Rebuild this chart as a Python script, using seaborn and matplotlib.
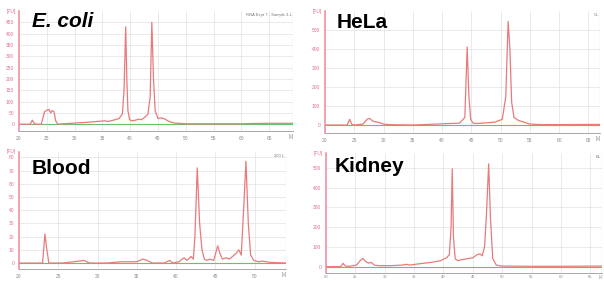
import numpy as np
import matplotlib
matplotlib.use("Agg")
import matplotlib.pyplot as plt
import seaborn as sns

# electropherogram traces: time [s] and fluorescence [FU]
ecoli_t = [20, 22.0, 22.4, 22.7, 23.0, 24.0, 24.6, 25.0, 25.4, 25.7, 26.0, 26.3, 26.6, 27.0,
           28, 30, 32, 34, 35.5, 36, 37, 38, 38.6, 38.9, 39.2, 39.4, 39.6, 39.9, 40.3, 41,
           41.5, 42, 42.6, 43.2, 43.6, 43.9, 44.2, 44.5, 45, 45.6, 46.3, 47, 48, 50, 55,
           60, 62, 65, 69.3]
ecoli_v = [0, 0, 18, 5, 0, 0, 55, 62, 65, 50, 60, 55, 15, 0,
           2, 5, 8, 12, 15, 12, 18, 25, 45, 150, 430, 200, 60, 20, 15, 18,
           22, 20, 30, 45, 120, 450, 200, 60, 25, 28, 22, 12, 5, 2, 2,
           2, 3, 4, 4]

hela_t = [20, 23.8, 24.2, 24.6, 25.0, 26.5, 27.2, 27.6, 28.2, 29, 30, 31, 35, 39, 43,
          43.9, 44.3, 44.6, 44.9, 45.3, 45.8, 47, 49, 50.3, 50.9, 51.3, 51.6, 51.9,
          52.3, 53, 54, 55, 57, 60, 65, 67]
hela_v = [0, 0, 30, 3, 0, 5, 30, 35, 20, 15, 5, 2, 0, 5, 10,
          40, 410, 150, 30, 10, 8, 10, 15, 30, 150, 545, 400, 120,
          40, 25, 15, 5, 2, 2, 3, 3]

blood_t = [20, 23.0, 23.3, 23.5, 23.8, 24.2, 25.5, 27, 28.3, 28.6, 29, 31.2, 33, 35,
           35.8, 36.3, 37, 38.5, 39.2, 39.6, 40.4, 41.0, 41.4, 41.9, 42.2, 42.4, 42.7,
           43.0, 43.3, 43.6, 43.9, 44.3, 44.8, 45.3, 45.6, 45.9, 46.4, 46.8, 47.2, 47.6,
           48.0, 48.3, 48.6, 48.9, 49.2, 49.5, 49.9, 50.5, 51, 52, 54]
blood_v = [0, 0, 22, 12, 0, 0, 0, 1, 2, 1, 0, 0, 1, 1,
           3, 2, 0, 0, 2, 0, 1, 4, 2, 5, 3, 20, 72,
           30, 10, 3, 2, 3, 2, 13, 7, 3, 4, 3, 5, 7,
           10, 6, 40, 77, 30, 6, 2, 1, 1.5, 0.5, 0]

kidney_t = [20, 22.5, 22.9, 23.3, 24, 25.2, 25.8, 26.25, 26.8, 27.3, 27.7, 28.2, 29, 31,
            33, 33.7, 34.3, 36, 38, 39.5, 40.5, 41.0, 41.3, 41.5, 41.7, 42.0, 42.5, 43,
            44, 45, 45.7, 46.2, 46.6, 47.0, 47.3, 47.7, 48.0, 48.4, 49, 50, 55, 60, 67]
kidney_v = [0, 0, 17, 3, 2, 8, 30, 42, 25, 18, 22, 8, 5, 5,
            8, 12, 8, 15, 22, 30, 45, 60, 200, 495, 150, 40, 30, 35,
            40, 45, 60, 65, 55, 100, 250, 520, 250, 40, 8, 3, 2, 2, 3]

names = ["E. coli", "HeLa", "Blood", "Kidney"]
corner = ["RNA Expt 7 - Sample 3-L", "CL", "200 L", "EL"]
xticks = [list(range(20, 70, 5)), list(range(20, 70, 5)), list(range(20, 55, 5)),
          list(range(20, 70, 5))]
yticks = [list(range(0, 500, 50)), list(range(0, 600, 100)), list(range(0, 90, 10)),
          list(range(0, 600, 100))]

sns.set_style("white")
plt.rcParams["font.family"] = ["Liberation Sans", "DejaVu Sans"]

W, H = 604, 281
fig = plt.figure(figsize=(W / 100, H / 100), dpi=100)

# pixel boxes (left, right, top, bottom) and axis limits for each panel
boxes = [(19, 293, 11, 131), (325, 600, 11, 133), (19, 286, 152, 269), (326, 602, 153, 273)]
xlims = [(20, 69.3), (20, 67), (20, 54), (20, 67)]
ylims = [(-30, 500), (-42, 600), (-4.5, 84), (-32, 575)]
title_pos = [(0.047, 0.87), (0.044, 0.86), (0.049, 0.81), (0.033, 0.84)]
xpad = [1.5, 1.5, 1.5, 0.5]
xlen = [2, 2, 2, 1]
xsize = [3.5, 3.5, 3.5, 3]

traces = [(ecoli_t, ecoli_v), (hela_t, hela_v), (blood_t, blood_v), (kidney_t, kidney_v)]

red = "#e97a7a"
pink = "#f08a9a"
green = "#6cbf6c"

for i, (t, v) in enumerate(traces):
    l, r, top, b = boxes[i]
    ax = fig.add_axes([l / W, 1 - b / H, (r - l) / W, (b - top) / H])
    ax.set_xlim(*xlims[i])
    ax.set_ylim(*ylims[i])
    ax.set_xticks(xticks[i])
    ax.set_yticks(yticks[i])
    ax.grid(True, color="#e2e2e2", lw=0.5)
    ax.set_axisbelow(True)
    ax.axhline(0, color=green, lw=0.8)
    ax.axvline(xlims[i][1], color=green, lw=0.8, ls="--")
    sns.lineplot(x=t, y=v, ax=ax, color=red, lw=0.9, estimator=None, sort=False)

    for s in ["top", "right"]:
        ax.spines[s].set_visible(False)
    ax.spines["left"].set_color(pink)
    ax.spines["left"].set_linewidth(1.1)
    ax.spines["bottom"].set_color("#9a9a9a")
    ax.spines["bottom"].set_linewidth(0.6)
    ax.tick_params(axis="y", colors=pink, labelsize=3.5, length=2, width=0.5, pad=1.5)
    ax.tick_params(axis="x", colors="#8a8a8a", labelsize=xsize[i], length=xlen[i],
                   width=0.5, pad=xpad[i])
    for lab in ax.get_yticklabels():
        lab.set_color("#e0708a")

    ax.text(-0.012, 1.0, "[FU]", transform=ax.transAxes, ha="right", va="center",
            fontsize=3.5, color="#e0708a")
    ax.text(0.995, -0.01 - 0.008 * xpad[i], "[s]", transform=ax.transAxes, ha="center",
            va="top", fontsize=xsize[i], color="#8a8a8a")
    ax.text(0.995, 0.985, corner[i], transform=ax.transAxes, ha="right", va="top",
            fontsize=3, color="#777777")

    style = "italic" if i == 0 else "normal"
    ax.text(title_pos[i][0], title_pos[i][1], names[i], transform=ax.transAxes,
            ha="left", va="baseline", fontsize=15, fontweight="bold", fontstyle=style,
            color="black")

fig.savefig("out.png", dpi=100)
